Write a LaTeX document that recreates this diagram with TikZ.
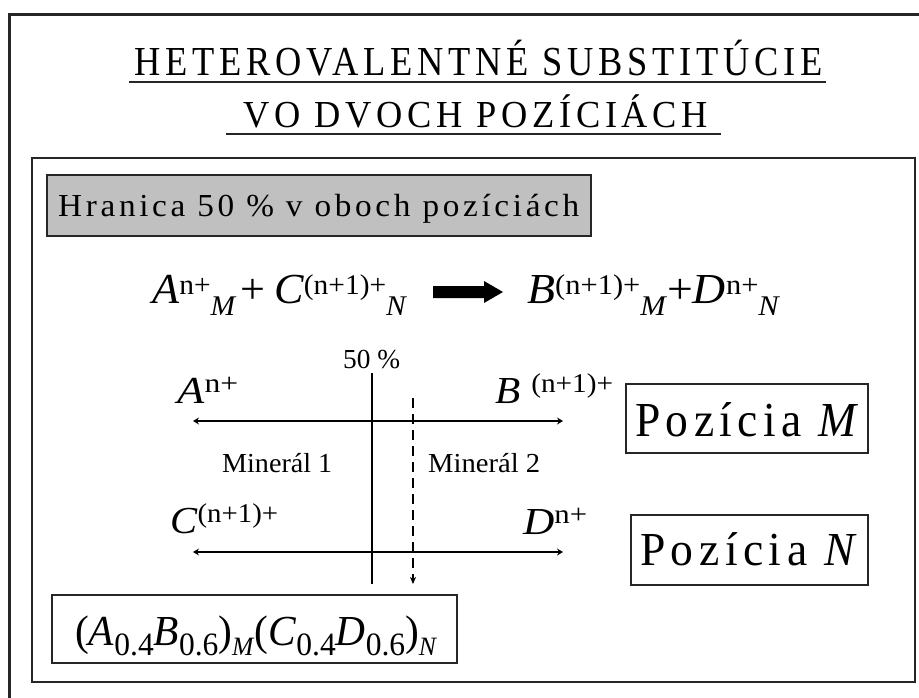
\documentclass[tikz,border=0pt]{standalone}
\usepackage{fontspec}
\setmainfont{Liberation Serif}
\newfontfamily\titlefont[LetterSpace=13]{Liberation Serif}
\newfontfamily\grayfont[LetterSpace=11]{Liberation Serif}
\newfontfamily\posfont[LetterSpace=12]{Liberation Serif}
\usetikzlibrary{arrows.meta}
\newcommand\fitbox[3]{\resizebox{#1}{#2}{\raisebox{0pt}[\fontcharht\font`H][0pt]{#3}}}
\newcommand\SupT[3]{\raisebox{#1}{\fontsize{#2}{#2}\selectfont #3}}
\newcommand\SubT[3]{\raisebox{-#1}{\fontsize{#2}{#2}\selectfont #3}}
\definecolor{boxgray}{HTML}{C0C0C0}
\tikzset{
  txt/.style={inner sep=0pt, anchor=base west},
  frameline/.style={line width=3pt, draw=black!85},
  boxline/.style={line width=2.2pt, draw=black!85},
  axis/.style={line width=2.2pt, {Stealth[length=6pt,width=7pt,inset=2pt]}-{Stealth[length=6pt,width=7pt,inset=2pt]}},
  solidv/.style={line width=2.2pt},
  dashv/.style={line width=2pt, dash pattern=on 10pt off 6pt, -{Stealth[length=7pt,width=6pt,inset=2pt]}},
}
\begin{document}
\begin{tikzpicture}[x=1pt,y=-1pt]
\useasboundingbox (0,0) rectangle (919,698);
% outer frame (open to the right and bottom)
\coordinate (ofr) at (925,15);
\coordinate (ofc) at (9.5,15);
\coordinate (ofb) at (9.5,705);
\draw[frameline] (ofr) -- (ofc) -- (ofb);
% inner frame
\node[frameline, line width=2.6pt, minimum width=883pt, minimum height=524pt, inner sep=0pt] (inner) at (473.5,420) {};
% title
\node[txt, font=\titlefont\fontsize{42pt}{44pt}\selectfont] (t1) at (134,76) {\fitbox{688pt}{27pt}{HETEROVALENTNÉ SUBSTITÚCIE}};
\node[txt, font=\titlefont\fontsize{42pt}{44pt}\selectfont] (t2) at (243,128) {\fitbox{465pt}{25pt}{VO DVOCH POZÍCIÁCH}};
\coordinate (u1a) at (129,82); \coordinate (u1b) at (826,82);
\coordinate (u2a) at (226,134); \coordinate (u2b) at (721,134);
\draw[line width=2.6pt, black!85] (u1a) -- (u1b);
\draw[line width=2.6pt, black!85] (u2a) -- (u2b);
% gray box
\node[boxline, fill=boxgray, minimum width=544pt, minimum height=61pt, inner sep=0pt] (gray) at (319,205.5) {};
\node[txt, font=\grayfont\fontsize{31pt}{33pt}\selectfont] (graytxt) at (58,216) {\fitbox{521pt}{21pt}{Hranica 50 \% v oboch pozíciách}};
% equation
\node[txt, font=\fontsize{42pt}{44pt}\selectfont] (eqL) at (152,303) {\fitbox{255pt}{28pt}{\textit{A}\SupT{8pt}{28pt}{n+}\SubT{12pt}{28pt}{\textit{M}}\hspace{4pt}+\hspace{8pt}\textit{C}\SupT{8pt}{28pt}{(n+1)+}\SubT{12pt}{28pt}{\textit{N}}}};
\node[txt, font=\fontsize{42pt}{44pt}\selectfont] (eqR) at (527,303) {\fitbox{253pt}{28pt}{\textit{B}\SupT{8pt}{28pt}{(n+1)+}\SubT{12pt}{28pt}{\textit{M}}+\textit{D}\SupT{8pt}{28pt}{n+}\SubT{12pt}{28pt}{\textit{N}}}};
\fill[black] (433,286) -- (484,286) -- (484,281) -- (503,292) -- (484,303) -- (484,298) -- (433,298) -- cycle;
% 50 %
\node[txt, font=\fontsize{27pt}{29pt}\selectfont] (pct) at (343,368) {\fitbox{57pt}{18pt}{50 \%}};
% labels
\node[txt, font=\fontsize{38pt}{40pt}\selectfont] (lA) at (177,403) {\fitbox{61pt}{25pt}{\textit{A}\SupT{10pt}{27pt}{n+}}};
\node[txt, font=\fontsize{38pt}{40pt}\selectfont] (lB) at (495,403) {\fitbox{118pt}{25pt}{\textit{B}\hspace{10pt}\SupT{10pt}{27pt}{(n+1)+}}};
\node[txt, font=\fontsize{38pt}{40pt}\selectfont] (lC) at (170,533) {\fitbox{108pt}{25pt}{\textit{C}\SupT{10pt}{27pt}{(n+1)+}}};
\node[txt, font=\fontsize{38pt}{40pt}\selectfont] (lD) at (523,534) {\fitbox{64pt}{25pt}{\textit{D}\SupT{10pt}{27pt}{n+}}};
\node[txt, font=\fontsize{27pt}{29pt}\selectfont] (m1) at (222,472) {\fitbox{110pt}{18pt}{Minerál 1}};
\node[txt, font=\fontsize{27pt}{29pt}\selectfont] (m2) at (428,472) {\fitbox{112pt}{18pt}{Minerál 2}};
% axes
\coordinate (h1a) at (193,421); \coordinate (h1b) at (563,421);
\coordinate (h2a) at (193,552); \coordinate (h2b) at (563,552);
\draw[axis] (h1a) -- (h1b);
\draw[axis] (h2a) -- (h2b);
\coordinate (va) at (372,373); \coordinate (vb) at (372,584);
\draw[solidv] (va) -- (vb);
\coordinate (da) at (413,398); \coordinate (db) at (413,584);
\draw[dashv] (da) -- (db);
% position boxes
\node[boxline, minimum width=242pt, minimum height=69pt, inner sep=0pt] (posM) at (747,418.5) {};
\node[txt, font=\posfont\fontsize{48pt}{50pt}\selectfont] (posMt) at (635,436) {\fitbox{229pt}{32pt}{Pozícia \textit{M}}};
\node[boxline, minimum width=237pt, minimum height=70pt, inner sep=0pt] (posN) at (749.5,550) {};
\node[txt, font=\posfont\fontsize{48pt}{50pt}\selectfont] (posNt) at (640,565) {\fitbox{222pt}{31pt}{Pozícia \textit{N}}};
% formula box
\node[boxline, minimum width=405pt, minimum height=68pt, inner sep=0pt] (fbox) at (254.5,629) {};
\node[txt, font=\fontsize{42pt}{44pt}\selectfont] (ftxt) at (75,645) {\fitbox{362pt}{28pt}{(\textit{A}\SubT{10pt}{32pt}{0.4}\textit{B}\SubT{10pt}{32pt}{0.6})\SubT{10pt}{26pt}{\textit{M}}(\textit{C}\SubT{10pt}{32pt}{0.4}\textit{D}\SubT{10pt}{32pt}{0.6})\SubT{10pt}{26pt}{\textit{N}}}};
\end{tikzpicture}
\end{document}
